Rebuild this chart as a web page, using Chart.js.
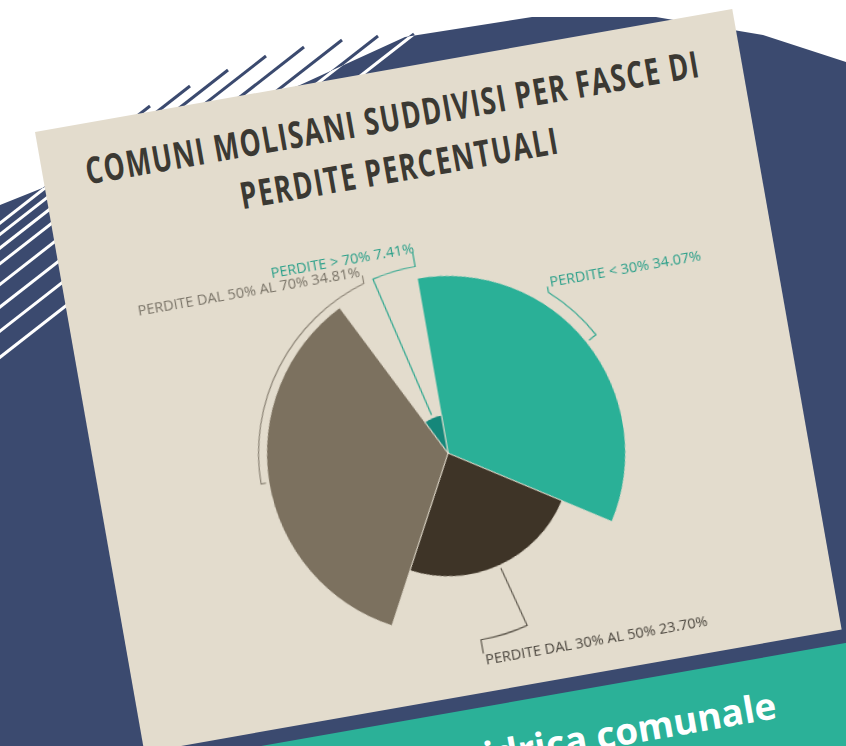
<!DOCTYPE html>
<html><head><meta charset="utf-8">
<script src="https://cdn.jsdelivr.net/npm/chart.js@4.4.1/dist/chart.umd.min.js"></script>
<style>
html,body{margin:0;padding:0;width:846px;height:746px;overflow:hidden;background:#fff;}
#bg{position:absolute;left:0;top:0;}
#frame{position:absolute;left:35px;top:132px;width:708px;height:630px;transform-origin:0 0;transform:rotate(-10deg);}
#card{position:absolute;left:0;top:0;width:708px;height:630px;background:#e3dccd;overflow:hidden;}
#banner{position:absolute;left:-60px;top:644px;width:900px;height:140px;background:#2bb198;}
#bannerText{position:absolute;right:210px;top:29px;font-family:'Open Sans',sans-serif;font-weight:700;font-size:37px;line-height:1;color:#fff;white-space:nowrap;}
.t{position:absolute;font-family:'Open Sans',sans-serif;font-weight:700;font-size:37px;letter-spacing:2px;color:#3b3933;white-space:nowrap;line-height:1;transform-origin:0 0;}
#chart{position:absolute;left:0;top:0;}
</style></head>
<body>
<svg id="bg" width="846" height="746">
  <defs><clipPath id="navyClip"><polygon points="0,205 300,85 405,37 532,17 656,17 763,35 846,62 846,746 0,746"/></clipPath></defs>
  <g id="navyLines" stroke="#3b4a6f" stroke-width="3"></g>
  <polygon fill="#3b4a6f" points="0,205 300,85 405,37 532,17 656,17 763,35 846,62 846,746 0,746"/>
  <g id="whiteLines" stroke="#ffffff" stroke-width="3" clip-path="url(#navyClip)"></g>
</svg>
<div id="frame">
  <div id="banner"><div id="bannerText">Rete idrica comunale</div></div>
  <div id="card">
    <div class="t" id="t1" style="top:28px;left:43px">COMUNI MOLISANI SUDDIVISI PER FASCE DI</div>
    <div class="t" id="t2" style="top:79px;left:191px">PERDITE PERCENTUALI</div>
    <canvas id="chart" width="708" height="630"></canvas>
  </div>
</div>
<script>
// ---- data ----
const categories = ['PERDITE < 30%', 'PERDITE DAL 30% AL 50%', 'PERDITE DAL 50% AL 70%', 'PERDITE > 70%'];
const shares = [34.07, 23.70, 34.81, 7.41];
const sliceColors = ['#2ab097', '#3e3427', '#7c715f', '#15877a'];

// ---- decorative stripes ----
(function(){
  const tops = [[150,106],[190,86],[228,70],[266,56],[304,47],[342,40],[378,36],[414,34]];
  const ns = 'http://www.w3.org/2000/svg';
  ['navyLines','whiteLines'].forEach(id=>{
    const g = document.getElementById(id);
    tops.forEach(([x,y])=>{
      const l = document.createElementNS(ns,'line');
      l.setAttribute('x1',x); l.setAttribute('y1',y);
      l.setAttribute('x2',x-520); l.setAttribute('y2',y+406);
      g.appendChild(l);
    });
  });
})();

// ---- title fit ----
[['t1',622],['t2',322]].forEach(([id,w])=>{
  const el = document.getElementById(id);
  const s = w / (el.offsetWidth - 2);
  el.style.transform = 'scaleX(' + s + ')';
});

// ---- plugins ----
const variableRadius = {
  id: 'variableRadius',
  afterDatasetsUpdate(chart) {
    const meta = chart.getDatasetMeta(0);
    const base = meta.controller.outerRadius;
    const vals = chart.data.datasets[0].data;
    const mx = Math.max(...vals);
    meta.data.forEach((arc, i) => { arc.outerRadius = base * vals[i] / mx; });
  }
};

const callouts = {
  id: 'callouts',
  afterDraw(chart, args, opts) {
    const ctx = chart.ctx;
    const meta = chart.getDatasetMeta(0);
    const base = meta.controller.outerRadius;
    const R = base + opts.ringOffset;
    const vals = chart.data.datasets[0].data;
    meta.data.forEach((arc, i) => {
      const o = opts.items[i];
      const cx = arc.x, cy = arc.y;
      const mid = (arc.startAngle + arc.endAngle) / 2;
      const r0 = arc.outerRadius + opts.gap;
      const la = (o.angle - 90) * Math.PI / 180;
      ctx.save();
      ctx.strokeStyle = o.line;
      ctx.lineWidth = 1.2;
      ctx.beginPath();
      ctx.moveTo(cx + r0 * Math.cos(mid), cy + r0 * Math.sin(mid));
      ctx.lineTo(cx + R * Math.cos(mid), cy + R * Math.sin(mid));
      ctx.arc(cx, cy, R, mid, la, la < mid);
      const ex = cx + R * Math.cos(la), ey = cy + R * Math.sin(la);
      ctx.lineTo(ex, ey + o.tick);
      ctx.stroke();
      ctx.fillStyle = o.color;
      ctx.font = opts.font;
      ctx.textAlign = o.align;
      ctx.textBaseline = 'alphabetic';
      const txt = chart.data.labels[i] + ' ' + vals[i].toFixed(2) + '%';
      const by = o.tick > 0 ? ey + o.tick + 11 : ey + o.tick + 1;
      ctx.fillText(txt, ex + o.dx, by);
      ctx.restore();
    });
  }
};

new Chart(document.getElementById('chart'), {
  type: 'pie',
  data: {
    labels: categories,
    datasets: [{
      data: shares,
      backgroundColor: sliceColors,
      borderColor: '#e3dccd',
      borderWidth: 1
    }]
  },
  options: {
    responsive: false,
    devicePixelRatio: 1,
    animation: false,
    events: [],
    rotation: 0,
    layout: { padding: { left: 169, right: 175, top: 206, bottom: 60 } },
    plugins: {
      legend: { display: false },
      tooltip: { enabled: false },
      callouts: {
        gap: 3,
        ringOffset: 8,
        font: "14.5px 'Open Sans', sans-serif",
        items: [
          { angle: 42,    tick: -6,  align: 'left',  dx: 3,  color: '#2a9f89', line: '#2aa58d' },
          { angle: 180,   tick: 14,  align: 'left',  dx: 1,  color: '#4a453d', line: '#5b554a' },
          { angle: 343.6, tick: -8,  align: 'right', dx: -2, color: '#7a7468', line: '#8a8274' },
          { angle: 360,   tick: -15, align: 'right', dx: 2,  color: '#2a9f89', line: '#2aa58d' }
        ]
      }
    }
  },
  plugins: [variableRadius, callouts]
});
</script>
</body></html>
